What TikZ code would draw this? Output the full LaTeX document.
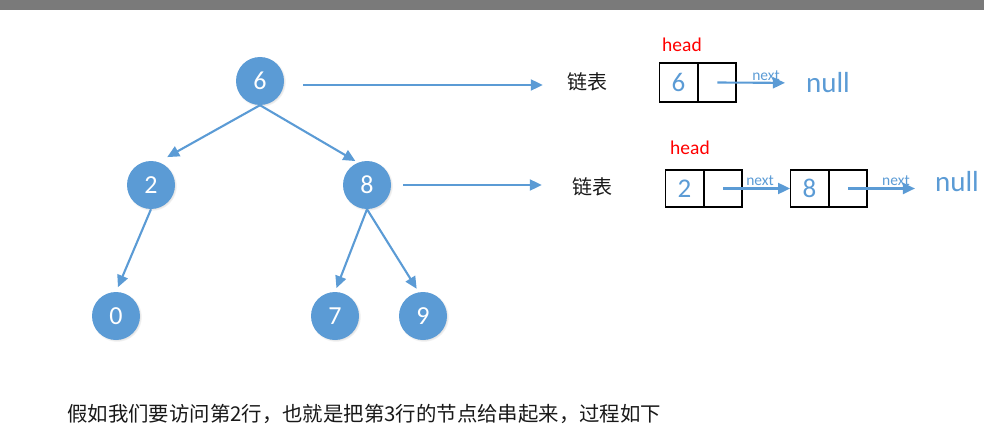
\documentclass[tikz,border=0pt]{standalone}
\usepackage{fontspec}
\setmainfont{Carlito}
\newfontfamily\cjk{Noto Sans CJK SC}
\usetikzlibrary{arrows.meta,shadows}
\definecolor{obl}{HTML}{5B9BD5}
\definecolor{topbar}{HTML}{7A7A7A}
\tikzset{
  tnode/.style={circle, fill=obl, minimum size=48pt, inner sep=0pt, text=white, font=\fontsize{26}{26}\selectfont,
    circular drop shadow={shadow xshift=0.8pt, shadow yshift=-0.8pt, shadow scale=1.05, opacity=0.25, fill=black!60}},
  tedge/.style={draw=obl, line width=2.1pt, -{Triangle[width=11pt,length=12pt]}},
  cell/.style={draw=black, line width=1.4pt, minimum width=37.5pt, inner sep=0pt, text=obl, font=\fontsize{27}{27}\selectfont},
  lbl/.style={font=\cjk\fontsize{20}{20}\selectfont, text=black!90, inner sep=0pt},
  caplbl/.style={font=\cjk\fontsize{20.4}{20.4}\selectfont, text=black!90, inner sep=0pt},
  headlbl/.style={text=red, font=\fontsize{19.5}{19.5}\selectfont, inner sep=0pt},
  nextlbl/.style={text=obl, font=\fontsize{15.5}{15.5}\selectfont, inner sep=1.5pt},
  nulllbl/.style={text=obl, font=\fontsize{29}{29}\selectfont, inner sep=0pt},
}
\begin{document}
\begin{tikzpicture}[x=1pt,y=-1pt]
\useasboundingbox (0,0) rectangle (984,433);
\fill[topbar] (0,0) rectangle (984,10);
% tree
\node[tnode] (n6) at (260,81) {6};
\node[tnode] (n2) at (151,185) {2};
\node[tnode] (n8) at (367,185) {8};
\node[tnode] (n0) at (116,316) {0};
\node[tnode] (n7) at (335,316) {7};
\node[tnode] (n9) at (423,316) {9};
\draw[tedge, shorten >=10pt] (n6.south) -- (n2.72);
\draw[tedge, shorten >=3pt] (n6.south) -- (n8.112);
\draw[tedge, shorten >=5pt] (n2.south) -- (n0.north);
\draw[tedge, shorten >=4pt] (n8.south) -- (n7.north);
\draw[tedge, shorten >=4pt] (n8.south) -- (n9.100);
% labels
\node[lbl] (t1) at (587,82) {链表};
\node[lbl] (t2) at (592,187) {链表};
\draw[tedge] ([xshift=19pt,yshift=-4pt]n6.east) -- ([xshift=-24pt]t1.west |- 0,85);
\draw[tedge] ([xshift=12pt]n8.east) -- ([xshift=-30pt]t2.west |- 0,185);
% list 1
\node[cell, minimum height=39pt] (c1a) at (678.5,82.5) {6};
\node[cell, minimum height=39pt, anchor=west] (c1b) at (c1a.east) {};
\node[headlbl] (h1) at (682,45) {head};
\node[nulllbl] (null1) at (828,83) {null};
\draw[tedge, shorten >=21pt] (c1b.center) -- node[nextlbl, above, pos=0.55] {next} (null1.west);
% list 2
\node[cell, minimum height=37pt] (c2a) at (684.5,188.5) {2};
\node[cell, minimum height=37pt, anchor=west] (c2b) at (c2a.east) {};
\node[cell, minimum height=37pt] (c3a) at (809.5,188.5) {8};
\node[cell, minimum height=37pt, anchor=west] (c3b) at (c3a.east) {};
\node[headlbl] (h2) at (690,148) {head};
\node[nulllbl] (null2) at (957,182) {null};
\draw[tedge] (c2b.center) -- node[nextlbl, above, pos=0.55] {next} (c3a.west);
\draw[tedge, shorten >=20pt] (c3b.center) -- node[nextlbl, above, pos=0.55] {next} (null2.west |- c3b.center);
% caption
\node[caplbl, anchor=west] (cap) at (67,414) {假如我们要访问第2行，也就是把第3行的节点给串起来，过程如下};
\end{tikzpicture}
\end{document}
